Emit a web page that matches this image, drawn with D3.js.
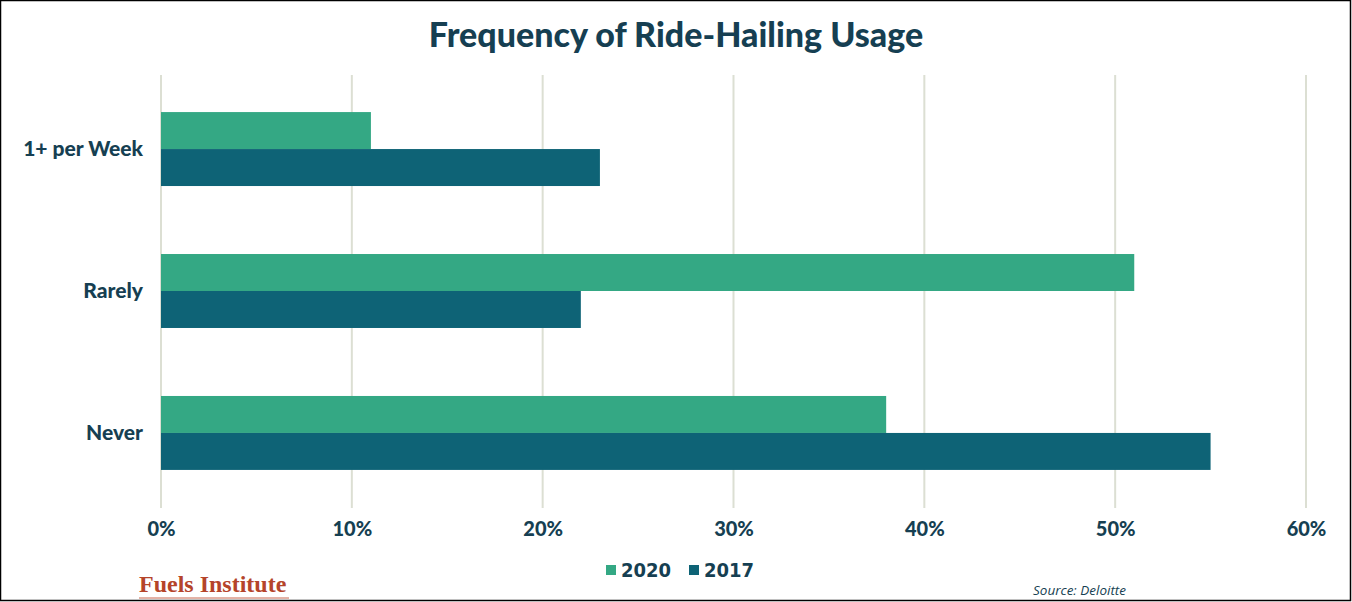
<!DOCTYPE html>
<html>
<head>
<meta charset="utf-8">
<script src="https://cdn.jsdelivr.net/npm/d3@7"></script>
<style>
  body { margin: 0; background: #fff; }
  svg { display: block; }
</style>
</head>
<body>
<svg id="chart" width="1352" height="602"></svg>
<script>
// chart data
const categories = ["1+ per Week", "Rarely", "Never"];
const series = ["2020", "2017"];
const values2020 = [11, 51, 38];
const values2017 = [23, 22, 55];
const xTicks = [0, 10, 20, 30, 40, 50, 60];

const colors = {"2020": "#34a884", "2017": "#0e6376"};
const textColor = "#163f52";

const svg = d3.select("#chart");
const width = 1352, height = 602;
const margin = ({top: 78, right: 46, bottom: 98, left: 161});

//outer frame
svg.append("rect")
    .attr("x", 0.5).attr("y", 0.5)
    .attr("width", width - 2).attr("height", height - 2)
    .attr("fill", "white")
    .attr("stroke", "#000")
    .attr("stroke-width", 1.5);

//title
svg.append("text")
    .attr("x", 676).attr("y", 47)
    .attr("text-anchor", "middle")
    .attr("fill", textColor)
    .style("font", "900 34px Lato, sans-serif")
    .text("Frequency of Ride-Hailing Usage");

const x = d3.scaleLinear()
    .domain([0, 60])
    .range([margin.left, width - margin.right]);

const y = d3.scaleBand()
    .domain(categories)
    .range([margin.top, height - margin.bottom])
    .paddingInner(0.479)
    .paddingOuter(0.24);

const ySub = d3.scaleBand()
    .domain(series)
    .range([0, y.bandwidth()]);

//gridlines
svg.append("g")
    .selectAll("line")
    .data(xTicks)
    .join("line")
        .attr("x1", d => x(d))
        .attr("x2", d => x(d))
        .attr("y1", 75)
        .attr("y2", 508)
        .attr("stroke", "#dcdfd3")
        .attr("stroke-width", 2);

//bars
const rows = categories.map((c, i) => ({cat: c, vals: [
    {s: "2020", v: values2020[i]},
    {s: "2017", v: values2017[i]}
]}));

svg.append("g")
    .selectAll("g")
    .data(rows)
    .join("g")
        .attr("transform", d => `translate(0,${y(d.cat)})`)
    .selectAll("rect")
    .data(d => d.vals)
    .join("rect")
        .attr("x", x(0))
        .attr("y", d => ySub(d.s))
        .attr("width", d => x(d.v) - x(0))
        .attr("height", ySub.bandwidth())
        .attr("fill", d => colors[d.s]);

//category labels
const yAxis = g => g
    .attr("transform", `translate(${margin.left - 18},0)`)
    .call(d3.axisLeft(y).tickSize(0).tickPadding(0))
    .call(g => g.select(".domain").remove())
    .call(g => g.selectAll("text")
        .attr("fill", textColor)
        .style("font", "900 21px Lato, sans-serif"));
svg.append("g").call(yAxis);

//x tick labels
const xAxis = g => g
    .attr("transform", `translate(0,529)`)
    .call(d3.axisBottom(x).tickValues(xTicks).tickFormat(d => d + "%").tickSize(0).tickPadding(0))
    .call(g => g.select(".domain").remove())
    .call(g => g.selectAll("text")
        .attr("fill", textColor)
        .attr("dy", "0.35em")
        .style("font", "900 20px Lato, sans-serif"));
svg.append("g").call(xAxis);

//legend
const legendX = [606, 689];
const legend = svg.append("g")
    .selectAll("g")
    .data(series)
    .join("g")
        .attr("transform", (d, i) => `translate(${legendX[i]},565)`);
legend.append("rect")
    .attr("width", 10).attr("height", 10)
    .attr("fill", d => colors[d]);
legend.append("text")
    .attr("x", 15).attr("y", 12)
    .attr("fill", textColor)
    .style("font", "bold 20px 'Liberation Sans Narrow', 'DejaVu Sans Condensed', sans-serif")
    .text(d => d);

//footer
svg.append("text")
    .attr("x", 139).attr("y", 592)
    .attr("fill", "#b5442a")
    .style("font", "bold 24px 'Liberation Serif', serif")
    .text("Fuels Institute");
svg.append("line")
    .attr("x1", 139).attr("x2", 289)
    .attr("y1", 598).attr("y2", 598)
    .attr("stroke", "#c8664e")
    .attr("stroke-width", 1);

svg.append("text")
    .attr("x", 1033).attr("y", 595)
    .attr("fill", textColor)
    .style("font", "italic 13.5px 'Open Sans', sans-serif")
    .text("Source: Deloitte");
</script>
</body>
</html>
